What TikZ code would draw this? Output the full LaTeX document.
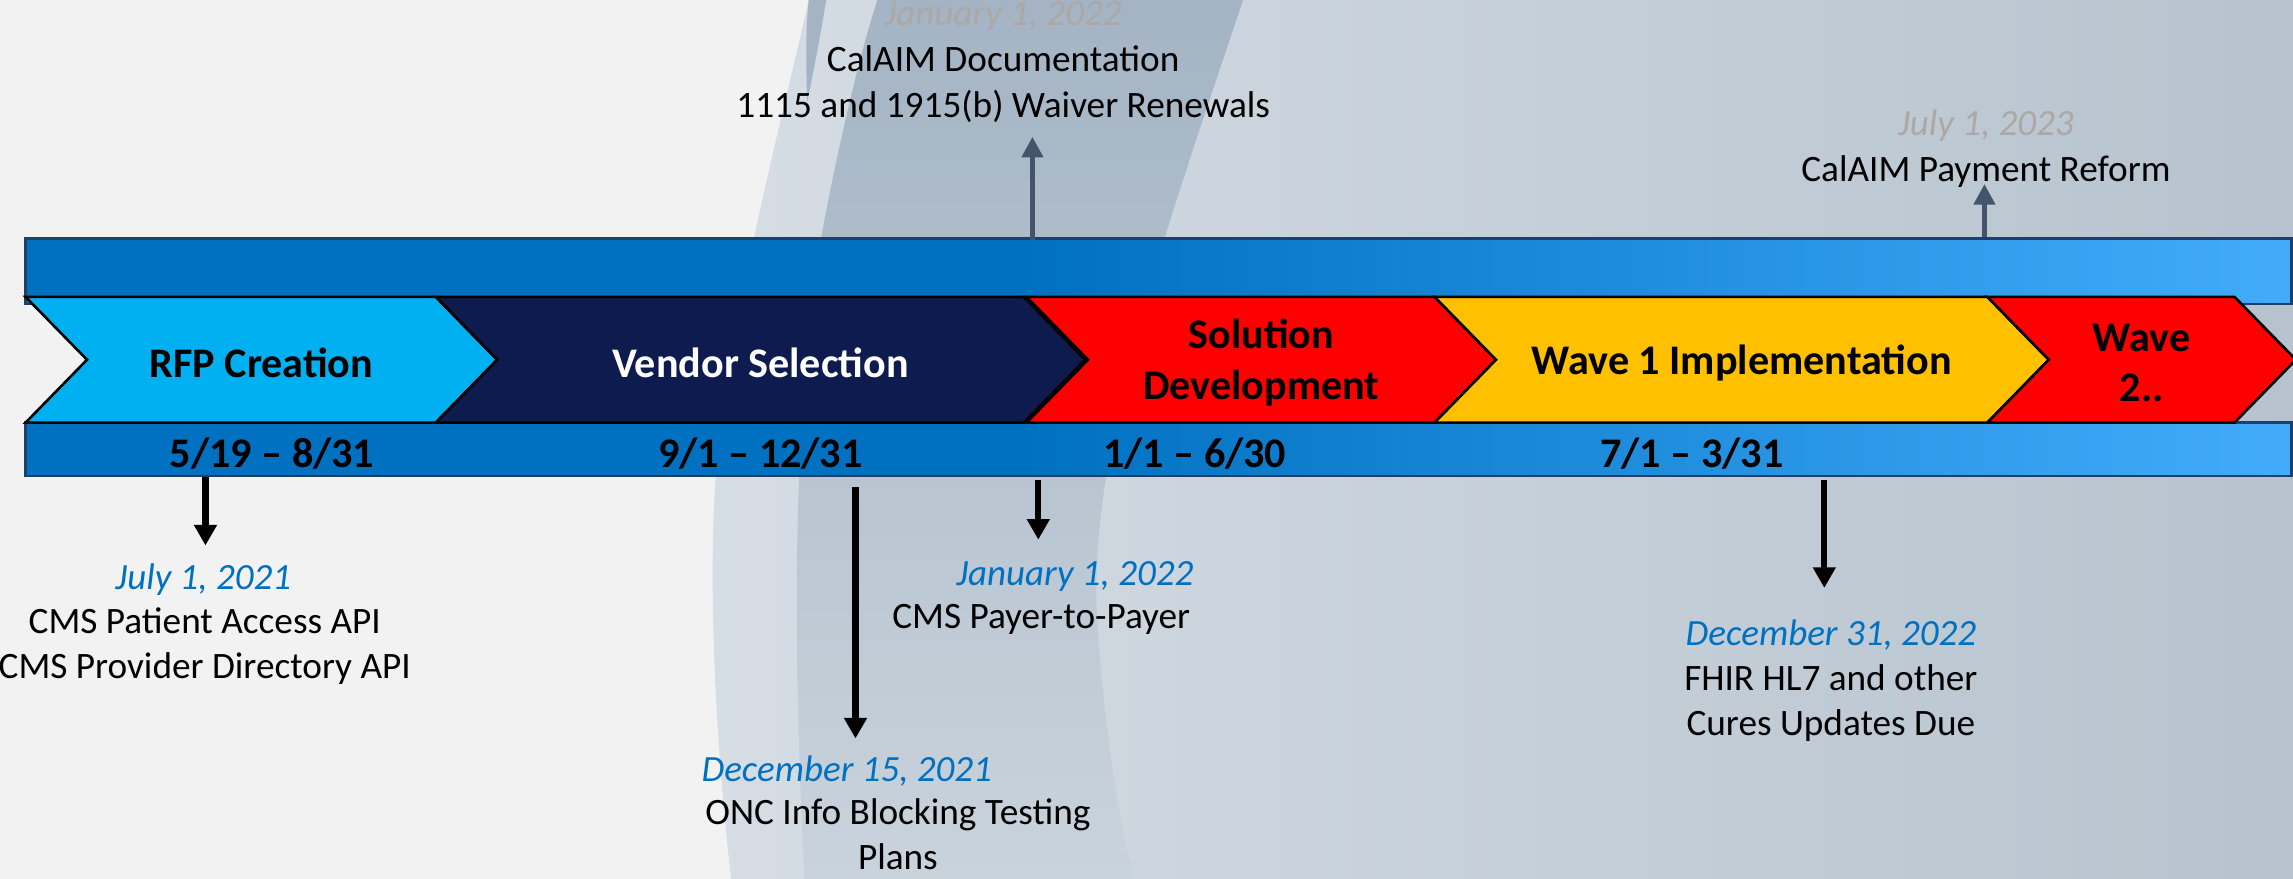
\documentclass[tikz,border=0pt]{standalone}
\usepackage{fontspec}
\setmainfont{Carlito}
\usetikzlibrary{arrows.meta}

\definecolor{pagegrey}{HTML}{F2F2F2}
\definecolor{hazeleft}{HTML}{D6DDE4}
\definecolor{hazeright}{HTML}{B6C3CE}
\definecolor{swirltop}{HTML}{A4B4C4}
\definecolor{swirlbot}{HTML}{C9D3DC}
\definecolor{barleft}{HTML}{0070C0}
\definecolor{barright}{HTML}{42ACFA}
\definecolor{barline}{HTML}{1F3F66}
\definecolor{rfpblue}{HTML}{00B0F0}
\definecolor{vendornavy}{HTML}{0E1B4F}
\definecolor{solred}{HTML}{FF0000}
\definecolor{wavegold}{HTML}{FFC000}
\definecolor{dateblue}{HTML}{0070C0}
\definecolor{fadegrey}{HTML}{ABA8A5}
\definecolor{slate}{HTML}{44546A}

\pgfdeclarehorizontalshading{barfade}{100bp}{color(0bp)=(barleft); color(25bp)=(barleft); color(47bp)=(barleft); color(75bp)=(barright); color(100bp)=(barright)}

\begin{document}
\begin{tikzpicture}[x=0.2mm, y=-0.2mm,
    chevron/.style={draw=black, line width=1pt, line join=miter},
    phase/.style={font=\fontsize{16.4}{19.6}\selectfont\bfseries, align=center, inner sep=0pt},
    span/.style={font=\fontsize{16.4}{19}\selectfont\bfseries, inner sep=0pt},
    evtext/.style={font=\fontsize{14.5}{17.6}\selectfont, align=center, inner sep=0pt},
    evdate/.style={font=\fontsize{14.4}{17.6}\selectfont\itshape, text=dateblue, inner sep=0pt},
    evfaded/.style={evdate, text=fadegrey},
    downarr/.style={-{Triangle[width=8.5pt,length=8pt]}, line width=2.4pt, draw=black},
    uparr/.style={-{Triangle[width=8pt,length=8pt]}, line width=2.1pt, draw=slate}]

    \useasboundingbox (0,0) rectangle (1568,601);

    % Backdrop
    \fill[pagegrey] (0,0) rectangle (1568,601);
    \shade[left color=hazeleft, right color=hazeright]
        (553,0) -- (1568,0) -- (1568,601) -- (500,601)
        .. controls (486,480) and (484,360) .. (492,300)
        .. controls (505,190) and (540,60) .. (553,0) -- cycle;
    \shade[top color=swirltop, bottom color=swirlbot]
        (600,0) -- (850,0)
        .. controls (800,150) and (745,300) .. (750,420)
        .. controls (755,500) and (765,560) .. (775,601)
        -- (550,601)
        .. controls (543,450) and (540,300) .. (562,160)
        .. controls (575,90) and (590,30) .. (600,0) -- cycle;
    \fill[swirltop] (553,0) -- (565,0) .. controls (560,30) and (556,50) .. (552,70)
        .. controls (551,40) and (551,20) .. (553,0) -- cycle;

    % Define timeline rows
    \def\ytop{203}  % top of the phase arrows
    \def\ybot{289}  % bottom of the phase arrows
    \def\ymid{246}  % tip height
    \def\tip{42}    % depth of each arrow point

    % Timeline bars
    \shade[shading=barfade, draw=barline, line width=1pt] (17.5,163) rectangle (1567,208);
    \shade[shading=barfade, draw=barline, line width=1pt] (17.5,289) rectangle (1567,325.6);

    % Phase arrows
    \foreach \xl/\xr/\fc/\tc/\nm/\txt in {
        17.5/298/rfpblue/black/rfp/{RFP Creation},
        298/700/vendornavy/white/vendor/{Vendor Selection},
        702/981/solred/black/soldev/{Solution\\Development},
        981/1359/wavegold/black/waveone/{Wave 1 Implementation},
        1359/1528/solred/black/wavetwo/{Wave\\2..}}
    {
        \draw[chevron, fill=\fc] (\xl,\ytop) -- (\xr,\ytop) -- (\xr+\tip,\ymid)
            -- (\xr,\ybot) -- (\xl,\ybot) -- (\xl+\tip,\ymid) -- cycle;
        \node[phase, text=\tc] (\nm) at ({(\xl+\xr+\tip)/2},248) {\txt};
    }

    % Phase date spans
    \node[span] (span1) at (186,310) {5/19 – 8/31};
    \node[span] (span2) at (520,310) {9/1 – 12/31};
    \node[span] (span3) at (817,310) {1/1 – 6/30};
    \node[span] (span4) at (1157,310) {7/1 – 3/31};

    % State milestones above the timeline
    \node[evfaded] (calaimdate) at (686,11.5) {January 1, 2022};
    \node[evtext] (calaimdoc) at (686,57.5) {CalAIM Documentation\\1115 and 1915(b) Waiver Renewals};
    \node[evfaded] (paydate) at (1358,86) {July 1, 2023};
    \node[evtext] (payreform) at (1358,117) {CalAIM Payment Reform};

    \coordinate (us1) at (706,164);  \coordinate (ue1) at (706,93.5);
    \coordinate (us2) at (1357,162); \coordinate (ue2) at (1357,125.8);
    \draw[uparr] (us1) -- (ue1);
    \draw[uparr] (us2) -- (ue2);

    % Federal milestones below the timeline
    \node[evdate] (accessdate) at (139,396.5) {July 1, 2021};
    \node[evtext] (accessapi) at (140,442) {CMS Patient Access API\\CMS Provider Directory API};
    \node[evdate] (oncdate) at (579,527) {December 15, 2021};
    \node[evtext] (oncplans) at (614,570.5) {ONC Info Blocking Testing\\Plans};
    \node[evdate] (p2pdate) at (735,394) {January 1, 2022};
    \node[evtext] (p2p) at (712,423.6) {CMS Payer-to-Payer};
    \node[evdate] (fhirdate) at (1252,434) {December 31, 2022};
    \node[evtext] (fhir) at (1252,480.5) {FHIR HL7 and other\\Cures Updates Due};

    \foreach \x/\ya/\yb [count=\k] in {140.5/326/373, 585/333/505, 710/328/369, 1247.5/328.5/402}
    {
        \coordinate (ds\k) at (\x,\ya);
        \coordinate (de\k) at (\x,\yb);
        \draw[downarr] (ds\k) -- (de\k);
    }

\end{tikzpicture}
\end{document}
